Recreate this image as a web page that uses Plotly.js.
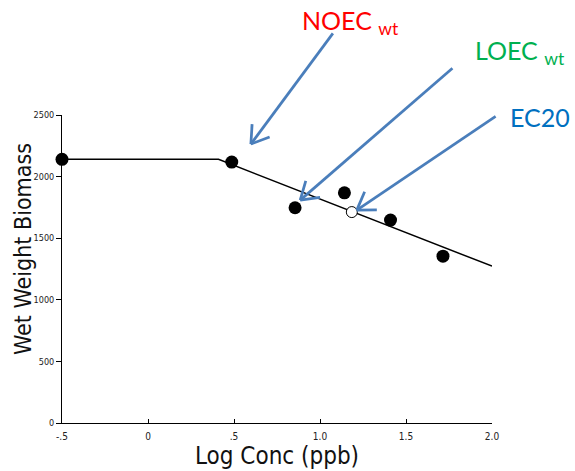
<!DOCTYPE html>
<html>
<head>
<meta charset="utf-8">
<script src="https://cdn.plot.ly/plotly-3.0.1.min.js"></script>
<style>html,body{margin:0;padding:0;background:#fff;}#chart{width:575px;height:471px;}</style>
</head>
<body>
<div id="chart"></div>
<script>
// Observed data (filled points)
const obsX = [-0.5, 0.487, 0.855, 1.142, 1.41, 1.715];
const obsY = [2140, 2118, 1747, 1868, 1647, 1354];
// EC20 estimate (open point)
const ec20X = [1.185];
const ec20Y = [1712];
// Fitted hockey-stick model
const fitX = [-0.5, 0.41, 2.0];
const fitY = [2140, 2140, 1273];
// Axis ticks
const xTickVals = [-0.5, 0, 0.5, 1.0, 1.5, 2.0];
const xTickText = ['-.5', '0', '.5', '1.0', '1.5', '2.0'];
const yTickVals = [0, 500, 1000, 1500, 2000, 2500];
const yTickText = ['0', '500', '1000', '1500', '2000', '2500'];
// Callouts
const calloutText = ['NOEC <sub>wt</sub>', 'LOEC <sub>wt</sub>', 'EC20'];
const calloutColor = ['#FF0000', '#00B050', '#0070C0'];
// arrow heads / tails in data units
const headX = [0.598, 0.885, 1.214];
const headY = [2264, 1809, 1728];
const tailX = [1.075, 1.770, 2.021];
const tailY = [3163, 2879, 2489];

const W = 575, H = 471;
const M = {l: 62, r: 83.3, t: 115, b: 48.3};
const xRange = [-0.5, 2.0], yRange = [0, 2500];
const plotW = W - M.l - M.r, plotH = H - M.t - M.b;
const kx = plotW / (xRange[1] - xRange[0]);
const ky = plotH / (yRange[1] - yRange[0]);
const toPx = x => (x - xRange[0]) / (xRange[1] - xRange[0]);
const toPy = y => (y - yRange[0]) / (yRange[1] - yRange[0]);
// paper positions of labels (left edge, vertical centre) in pixels
const labelPx = [301, 474, 509];
const labelPy = [22, 52, 117];

const narrow = "'Liberation Sans Narrow', 'Arial Narrow', 'DejaVu Sans Condensed', sans-serif";
const arrowColor = '#4A7EBB';

const traces = [
  {x: fitX, y: fitY, mode: 'lines', line: {color: '#000', width: 1.5}, hoverinfo: 'skip', cliponaxis: false},
  {x: obsX, y: obsY, mode: 'markers', marker: {color: '#000', size: 13}, cliponaxis: false},
  {x: ec20X, y: ec20Y, mode: 'markers', marker: {color: '#fff', size: 11, line: {color: '#000', width: 1}}, cliponaxis: false}
];

const shapes = [];
const annotations = [];
const barbLen = 20, barbAng = 33 * Math.PI / 180;
for (let i = 0; i < calloutText.length; i++) {
  shapes.push({type: 'line', xref: 'paper', yref: 'paper',
    x0: toPx(tailX[i]), y0: toPy(tailY[i]), x1: toPx(headX[i]), y1: toPy(headY[i]),
    line: {color: arrowColor, width: 2.75}});
  const dx = (tailX[i] - headX[i]) * kx, dy = -(tailY[i] - headY[i]) * ky;
  const len = Math.hypot(dx, dy);
  const ux = dx / len, uy = dy / len;
  for (const s of [-1, 1]) {
    const c = Math.cos(s * barbAng), sn = Math.sin(s * barbAng);
    const bx = ux * c - uy * sn, by = ux * sn + uy * c;
    shapes.push({type: 'line', xref: 'paper', yref: 'paper',
      x0: toPx(headX[i]), y0: toPy(headY[i]),
      x1: toPx(headX[i] + bx * barbLen / kx), y1: toPy(headY[i] - by * barbLen / ky),
      line: {color: arrowColor, width: 2.75}});
  }
  annotations.push({
    x: (labelPx[i] - M.l) / plotW, y: (H - M.b - labelPy[i]) / plotH, xref: 'paper', yref: 'paper',
    text: calloutText[i], showarrow: false, xanchor: 'left', yanchor: 'middle', borderpad: 0,
    font: {family: 'Lato, "Open Sans", sans-serif', size: 25, color: calloutColor[i]}
  });
}
annotations.push({
  x: (23 - M.l) / plotW, y: (H - M.b - 249) / plotH, xref: 'paper', yref: 'paper',
  text: 'Wet Weight Biomass', textangle: -90, showarrow: false, xanchor: 'center', yanchor: 'middle',
  font: {family: narrow, size: 23, color: '#111'}
});

const layout = {
  width: W, height: H,
  margin: M,
  paper_bgcolor: '#fff', plot_bgcolor: '#fff',
  showlegend: false,
  font: {family: narrow, color: '#222'},
  xaxis: {
    range: xRange, tickvals: xTickVals, ticktext: xTickText,
    showline: true, linecolor: '#000', linewidth: 1,
    ticks: 'inside', ticklen: 4, tickcolor: '#000',
    showgrid: false, zeroline: false, ticklabelstandoff: 4,
    tickfont: {family: narrow, size: 10, color: '#222'},
    title: {text: 'Log Conc (ppb)', font: {family: narrow, size: 24, color: '#111'}, standoff: 2}
  },
  yaxis: {
    range: yRange, tickvals: yTickVals, ticktext: yTickText,
    showline: true, linecolor: '#000', linewidth: 1,
    ticks: 'outside', ticklen: 5, tickcolor: '#000',
    showgrid: false, zeroline: false,
    tickfont: {family: narrow, size: 9, color: '#222'}
  },
  shapes: shapes,
  annotations: annotations
};

Plotly.newPlot('chart', traces, layout, {displayModeBar: false, staticPlot: true});
</script>
</body>
</html>
